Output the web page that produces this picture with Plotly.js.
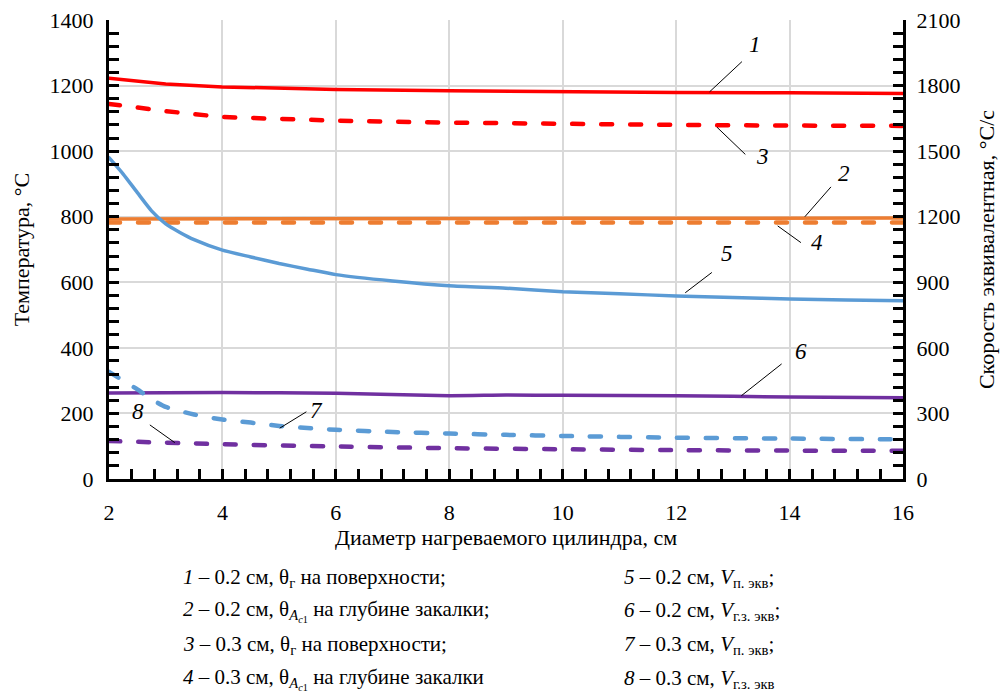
<!DOCTYPE html>
<html>
<head>
<meta charset="utf-8">
<script src="https://cdn.plot.ly/plotly-3.0.1.min.js"></script>
<style>
body{margin:0;background:#fff;font-family:'Liberation Serif',serif}
#chart{position:relative;width:1008px;height:699px}
#chart svg text, #chart svg tspan{font-family:'Liberation Serif',serif !important}
#chart path.js-line{stroke-linecap:round !important}
</style>
</head>
<body>
<div id="chart"></div>
<script>
// Temperature curves (left axis, °C)
const x1 = [2, 3, 4, 5, 6, 8, 10, 12, 14, 16];
const temp1 = [1222, 1205, 1196, 1191, 1188, 1184, 1181, 1179, 1178, 1176];
const temp3 = [1144, 1122, 1104, 1097, 1093, 1087, 1082, 1080, 1078, 1077];
const x2 = [2, 4, 6, 8, 10, 12, 14, 16];
const temp2 = [793, 794, 794, 794, 795, 795, 795, 796];
const temp4 = [782, 782, 782, 782, 782, 782, 782, 782];

// Equivalent rate curves (right axis, °C/s)
const x5 = [2, 2.25, 2.5, 2.75, 3, 3.25, 3.5, 4, 4.5, 5, 5.5, 6, 7, 8, 9, 10, 11, 12, 13, 14, 15, 16];
const rate5 = [1470, 1395, 1310, 1227, 1167, 1128, 1095, 1047, 1016, 986, 960, 935, 906, 884, 873, 857, 848, 837, 830, 824, 819, 815];
const x6 = [2, 4, 6, 8, 9, 10, 12, 14, 16];
const rate6 = [393, 396, 392, 381, 384, 383, 381, 375, 372];
const x7 = [2, 2.25, 2.5, 2.75, 3, 3.5, 4, 4.5, 5, 5.5, 6, 7, 8, 9, 10, 12, 14, 16];
const rate7 = [490, 450, 410, 365, 330, 295, 272, 258, 243, 233, 225, 215, 208, 202, 197, 189, 185, 181];
const x8 = [2, 4, 6, 8, 10, 12, 14, 16];
const rate8 = [174, 159, 149, 141, 136, 132, 130, 129];

// Curve number labels: label position, leader start, leader end (x / left-axis units)
const curveLabels = ['1', '2', '3', '4', '5', '6', '7', '8'];
const labelPos = [[13.39, 1324], [14.96, 933], [13.53, 983], [14.48, 720], [12.89, 689], [14.21, 388], [5.66, 210], [2.52, 205]];
const leaderFrom = [[13.16, 1273], [14.73, 891], [12.72, 1073], [13.79, 772], [12.63, 630], [13.86, 351], [5.48, 205], [2.72, 165]];
const leaderTo = [[12.59, 1181], [14.27, 800], [13.22, 990], [14.2, 721], [12.16, 568], [13.15, 254], [5.01, 155], [3.16, 111]];

const legendLeft = [
  '<i>1</i> – 0.2 см, θ<sub>г</sub> на поверхности;',
  '<i>2</i> – 0.2 см, θ<sub><i>A</i><sub><i>c</i>1</sub></sub> на глубине закалки;',
  '<i>3</i> – 0.3 см, θ<sub>г</sub> на поверхности;',
  '<i>4</i> – 0.3 см, θ<sub><i>A</i><sub><i>c</i>1</sub></sub> на глубине закалки'
];
const legendRight = [
  '<i>5</i> – 0.2 см, <i>V</i><sub>п. экв</sub>;',
  '<i>6</i> – 0.2 см, <i>V</i><sub>г.з. экв</sub>;',
  '<i>7</i> – 0.3 см, <i>V</i><sub>п. экв</sub>;',
  '<i>8</i> – 0.3 см, <i>V</i><sub>г.з. экв</sub>'
];

const RED = '#FF0000', ORANGE = '#ED7D31', BLUE = '#5B9BD5', PURPLE = '#7030A0';
const DASH = '11px,18px';
const FONT = 'Liberation Serif';

const traces = [
  {x: x1, y: temp1, line: {color: RED, width: 3.5}},
  {x: x2, y: temp2, line: {color: ORANGE, width: 3.5}},
  {x: x1, y: temp3, line: {color: RED, width: 4.5, dash: DASH}},
  {x: x2, y: temp4, line: {color: ORANGE, width: 4.5, dash: DASH}},
  {x: x5, y: rate5, yaxis: 'y2', line: {color: BLUE, width: 3.5, shape: 'spline', smoothing: 0.6}},
  {x: x6, y: rate6, yaxis: 'y2', line: {color: PURPLE, width: 3.5, shape: 'spline', smoothing: 0.6}},
  {x: x7, y: rate7, yaxis: 'y2', line: {color: BLUE, width: 4.5, dash: DASH, shape: 'spline', smoothing: 0.6}},
  {x: x8, y: rate8, yaxis: 'y2', line: {color: PURPLE, width: 4.5, dash: DASH, shape: 'spline', smoothing: 0.6}}
].map(t => Object.assign({type: 'scatter', mode: 'lines', showlegend: false, hoverinfo: 'skip'}, t));

const annotations = [];
const shapes = [];
curveLabels.forEach((lab, i) => {
  annotations.push({x: labelPos[i][0], y: labelPos[i][1], xref: 'x', yref: 'y', text: '<i>' + lab + '</i>',
    showarrow: false, font: {family: FONT, size: 23, color: '#000'}});
  shapes.push({type: 'line', xref: 'x', yref: 'y', x0: leaderFrom[i][0], y0: leaderFrom[i][1],
    x1: leaderTo[i][0], y1: leaderTo[i][1], line: {color: '#000', width: 1}});
});

const rowY = [578, 611, 645, 679];
const H = 459, T = 20;
rowY.forEach((py, i) => {
  const yp = (H + T - py) / H;
  annotations.push({x: (181 - 109) / 794, y: yp, xref: 'paper', yref: 'paper', xanchor: 'left', yanchor: 'middle',
    text: legendLeft[i], showarrow: false, font: {family: FONT, size: 21, color: '#000'}});
  annotations.push({x: (622 - 109) / 794, y: yp, xref: 'paper', yref: 'paper', xanchor: 'left', yanchor: 'middle',
    text: legendRight[i], showarrow: false, font: {family: FONT, size: 21, color: '#000'}});
});

function axisBase() {
  return {
    showline: true, linecolor: '#000', linewidth: 3,
    ticks: 'inside', ticklen: 10, tickwidth: 3, tickcolor: '#000',
    tickfont: {family: FONT, size: 22, color: '#000'},
    zeroline: false
  };
}

const layout = {
  width: 1008, height: 699,
  margin: {l: 109, r: 105, t: 20, b: 220},
  paper_bgcolor: '#fff', plot_bgcolor: '#fff',
  font: {family: FONT, size: 22, color: '#000'},
  showlegend: false,
  xaxis: Object.assign(axisBase(), {
    range: [2, 16], dtick: 2, tick0: 2,
    showgrid: true, gridcolor: '#d9d9d9', gridwidth: 1.5,
    minor: {dtick: 0.4, tick0: 2, ticks: 'inside', ticklen: 10, tickwidth: 3, tickcolor: '#000', showgrid: false},
    ticklabelstandoff: 12,
    title: {text: 'Диаметр нагреваемого цилиндра, см', font: {family: FONT, size: 22, color: '#000'}, standoff: 6}
  }),
  yaxis: Object.assign(axisBase(), {
    range: [0, 1400], dtick: 200, tick0: 0,
    showgrid: true, gridcolor: '#d9d9d9', gridwidth: 1.5,
    minor: {dtick: 40, tick0: 0, ticks: 'inside', ticklen: 10, tickwidth: 3, tickcolor: '#000', showgrid: false},
    ticklabelstandoff: 8,
    title: {text: 'Температура, °C', font: {family: FONT, size: 22, color: '#000'}, standoff: 14}
  }),
  yaxis2: Object.assign(axisBase(), {
    overlaying: 'y', side: 'right',
    range: [0, 2100], dtick: 300, tick0: 0,
    showgrid: false,
    minor: {dtick: 60, tick0: 0, ticks: 'inside', ticklen: 10, tickwidth: 3, tickcolor: '#000', showgrid: false},
    ticklabelstandoff: 6,
    title: {text: 'Скорость эквивалентная, °C/с', font: {family: FONT, size: 22, color: '#000'}, standoff: 20}
  }),
  annotations: annotations,
  shapes: shapes
};

function fixFonts() {
  document.querySelectorAll('#chart text, #chart tspan').forEach(el => {
    const cs = getComputedStyle(el);
    el.style.removeProperty('font-family');
    el.setAttribute('font-family', 'Liberation Serif');
    if (el.tagName.toLowerCase() === 'text') el.setAttribute('font-size', cs.fontSize);
    if (cs.fontStyle === 'italic') el.setAttribute('font-style', 'italic');
  });
}

Plotly.newPlot('chart', traces, layout, {displayModeBar: false}).then(fixFonts);
</script>
</body>
</html>
